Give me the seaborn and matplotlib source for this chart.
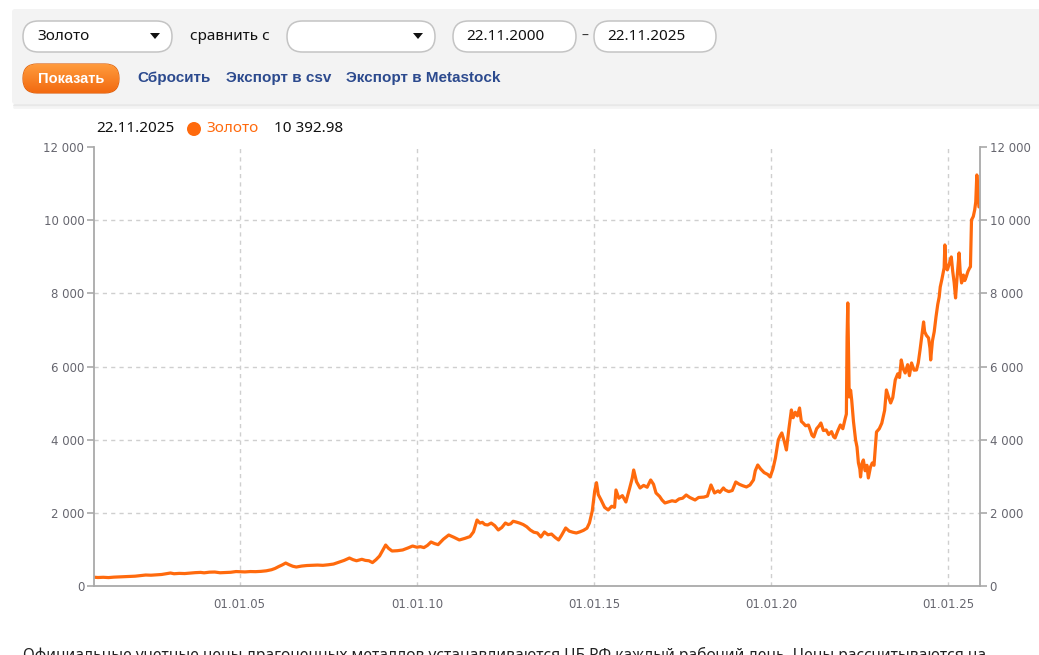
import pandas as pd
import numpy as np
import matplotlib
matplotlib.use("Agg")
import matplotlib.pyplot as plt
from matplotlib.patches import FancyBboxPatch, Circle, Polygon
import seaborn as sns

# --- данные (цена золота, руб/г), время в долях года ---
years = [
    2000.89, 2001.0, 2001.15, 2001.3, 2001.45, 2001.6, 2001.75, 2001.9, 2002.05, 2002.2,
    2002.35, 2002.5, 2002.65, 2002.8, 2002.95, 2003.05, 2003.15, 2003.3, 2003.45, 2003.6,
    2003.75, 2003.9, 2004.0, 2004.15, 2004.3, 2004.45, 2004.6, 2004.75, 2004.9, 2005.0,
    2005.15, 2005.3, 2005.45, 2005.6, 2005.75, 2005.9, 2006.0, 2006.1, 2006.2, 2006.3,
    2006.4, 2006.5, 2006.6, 2006.75, 2006.9, 2007.05, 2007.2, 2007.35, 2007.5, 2007.65,
    2007.8, 2007.95, 2008.1, 2008.2, 2008.3, 2008.45, 2008.55, 2008.65, 2008.75, 2008.85,
    2008.95, 2009.05, 2009.12, 2009.2, 2009.3, 2009.45, 2009.6, 2009.75, 2009.88, 2010.0,
    2010.1, 2010.2, 2010.3, 2010.4, 2010.5, 2010.6, 2010.75, 2010.9, 2011.05, 2011.2,
    2011.35, 2011.5, 2011.6, 2011.7, 2011.78, 2011.85, 2011.92, 2012.0, 2012.1, 2012.2,
    2012.3, 2012.4, 2012.5, 2012.58, 2012.65, 2012.72, 2012.8, 2012.9, 2013.0, 2013.1,
    2013.2, 2013.3, 2013.4, 2013.5, 2013.6, 2013.7, 2013.8, 2013.9, 2014.0, 2014.08,
    2014.2, 2014.3, 2014.4, 2014.5, 2014.6, 2014.7, 2014.8, 2014.87, 2014.95, 2015.02,
    2015.07, 2015.12, 2015.2, 2015.3, 2015.4, 2015.5, 2015.58, 2015.62, 2015.7, 2015.8,
    2015.9, 2016.0, 2016.08, 2016.12, 2016.2, 2016.3, 2016.4, 2016.5, 2016.6, 2016.68,
    2016.75, 2016.85, 2016.92, 2017.0, 2017.1, 2017.2, 2017.3, 2017.4, 2017.5, 2017.6,
    2017.7, 2017.85, 2017.95, 2018.1, 2018.2, 2018.3, 2018.35, 2018.4, 2018.5, 2018.55,
    2018.65, 2018.7, 2018.8, 2018.9, 2019.0, 2019.1, 2019.2, 2019.3, 2019.4, 2019.5,
    2019.55, 2019.62, 2019.7, 2019.8, 2019.9, 2019.97, 2020.05, 2020.12, 2020.2, 2020.25,
    2020.3, 2020.37, 2020.43, 2020.5, 2020.57, 2020.62, 2020.68, 2020.74, 2020.8, 2020.85,
    2020.9, 2020.97, 2021.05, 2021.1, 2021.15, 2021.2, 2021.28, 2021.35, 2021.4, 2021.47,
    2021.55, 2021.62, 2021.7, 2021.76, 2021.8, 2021.88, 2021.95, 2022.02, 2022.08, 2022.12,
    2022.14, 2022.16, 2022.18, 2022.2, 2022.24, 2022.27, 2022.32, 2022.38, 2022.42, 2022.46,
    2022.5, 2022.52, 2022.56, 2022.6, 2022.65, 2022.7, 2022.74, 2022.8, 2022.85, 2022.9,
    2022.97, 2023.05, 2023.12, 2023.2, 2023.25, 2023.3, 2023.37, 2023.43, 2023.5, 2023.57,
    2023.62, 2023.67, 2023.72, 2023.78, 2023.85, 2023.9, 2023.96, 2024.03, 2024.1, 2024.15,
    2024.2, 2024.26, 2024.3, 2024.33, 2024.38, 2024.44, 2024.48, 2024.5, 2024.55, 2024.6,
    2024.65, 2024.7, 2024.74, 2024.77, 2024.82, 2024.85, 2024.88, 2024.9, 2024.93, 2024.97,
    2025.02, 2025.08, 2025.12, 2025.16, 2025.2, 2025.24, 2025.3, 2025.33, 2025.37, 2025.42,
    2025.46, 2025.5, 2025.55, 2025.6, 2025.62, 2025.65, 2025.7, 2025.74, 2025.77, 2025.8,
    2025.83, 2025.86, 2025.89,
]
prices = [
    240, 232, 238, 230, 242, 248, 255, 262, 268, 285,
    300, 295, 305, 315, 340, 355, 335, 345, 340, 352,
    365, 372, 360, 378, 382, 362, 368, 375, 395, 391,
    385, 395, 392, 400, 415, 445, 480, 530, 575, 628,
    580, 540, 519, 545, 560, 565, 572, 565, 580, 600,
    650, 700, 765, 720, 690, 730, 700, 690, 640, 720,
    820, 1000, 1120, 1030, 957, 965, 985, 1040, 1093, 1060,
    1075, 1050, 1110, 1203, 1160, 1130, 1280, 1394, 1330, 1258,
    1300, 1350, 1480, 1804, 1720, 1740, 1680, 1668, 1720, 1650,
    1531, 1600, 1722, 1680, 1700, 1770, 1750, 1720, 1680, 1620,
    1531, 1470, 1450, 1340, 1476, 1400, 1420, 1330, 1258, 1380,
    1586, 1500, 1470, 1449, 1480, 1520, 1580, 1722, 2050, 2600,
    2824, 2500, 2351, 2150, 2078, 2180, 2150, 2625, 2400, 2470,
    2297, 2650, 2950, 3171, 2850, 2679, 2750, 2700, 2898, 2780,
    2543, 2450, 2350, 2269, 2300, 2330, 2310, 2380, 2400, 2488,
    2420, 2351, 2420, 2430, 2460, 2761, 2650, 2543, 2600, 2560,
    2680, 2625, 2580, 2610, 2843, 2780, 2740, 2707, 2760, 2900,
    3150, 3308, 3200, 3100, 3050, 2980, 3200, 3500, 3992, 4100,
    4183, 3950, 3718, 4300, 4812, 4600, 4750, 4650, 4866, 4500,
    4456, 4380, 4400, 4265, 4120, 4074, 4300, 4380, 4456, 4250,
    4265, 4140, 4220, 4080, 4047, 4250, 4402, 4300, 4550, 4700,
    6800, 7737, 6500, 5167, 5350, 5085, 4500, 3992, 3800, 3363,
    3200, 2980, 3350, 3445, 3150, 3300, 2953, 3250, 3363, 3300,
    4210, 4300, 4450, 4800, 5359, 5200, 5003, 5150, 5632, 5800,
    5700, 6179, 5950, 5823, 6050, 5750, 6097, 5900, 5905, 6100,
    6452, 6900, 7218, 6950, 6850, 6780, 6500, 6179, 6700, 6950,
    7354, 7700, 7900, 8175, 8400, 8558, 8700, 9323, 8700, 8640,
    8800, 8995, 8600, 8300, 7874, 8400, 9104, 8600, 8284, 8500,
    8350, 8448, 8600, 8700, 8722, 10007, 10100, 10280, 10500, 11236,
    10800, 10362, 10393,
]
y_ticks = [0, 2000, 4000, 6000, 8000, 10000, 12000]
x_ticks = ["2005-01-01", "2010-01-01", "2015-01-01", "2020-01-01", "2025-01-01"]
x_tick_labels = ["01.01.05", "01.01.10", "01.01.15", "01.01.20", "01.01.25"]

metal = "Золото"
date_from = "22.11.2000"
date_to = "22.11.2025"
last_value = "10 392.98"
footer = ("Официальные учетные цены драгоценных металлов устанавливаются ЦБ РФ "
          "каждый рабочий день. Цены рассчитываются на")

ORANGE = "#ff6a0d"
LINK = "#2c4a8e"
GRAY = "#a9a9a9"
TICK_TXT = "#66666f"

assert len(years) == len(prices)


def to_date(y):
    year = int(y)
    start = pd.Timestamp(year=year, month=1, day=1)
    return start + pd.Timedelta(days=(y - year) * 365.25)


df = pd.DataFrame({"date": [to_date(y) for y in years], "price": prices})

sns.set_theme(style="white")
plt.rcParams["font.family"] = ["Noto Sans", "DejaVu Sans"]
BOLD_FONT = ["Liberation Sans", "DejaVu Sans"]

W, H = 1039, 655
fig = plt.figure(figsize=(W / 100, H / 100), dpi=100)

# --- фон и элементы формы (в пикселях) ---
bg = fig.add_axes([0, 0, 1, 1], zorder=0)
bg.set_xlim(0, W)
bg.set_ylim(H, 0)
bg.axis("off")

panel = FancyBboxPatch((12, 9), W + 20, 95, boxstyle="round,pad=0,rounding_size=3",
                       fc="#f3f3f3", ec="none")
bg.add_patch(panel)
bg.plot([14, W], [105, 105], color="#e8e8e8", lw=2)
bg.plot([14, W], [107, 107], color="#f4f4f4", lw=2)


def pill(x0, x1, y0, y1):
    r = (y1 - y0) / 2
    bg.add_patch(FancyBboxPatch((x0, y0), x1 - x0, y1 - y0,
                                boxstyle=f"round,pad=0,rounding_size={r}",
                                fc="white", ec="#c4c4c4", lw=1.1))


def triangle(cx, cy):
    bg.add_patch(Polygon([[cx - 5, cy - 3], [cx + 5, cy - 3], [cx, cy + 3]],
                         closed=True, fc="#111111", ec="none"))


pill(23, 172, 21, 52)
bg.text(37, 37, metal, fontsize=11, va="center", ha="left", color="#111111")
triangle(155, 36)
bg.text(190, 37, "сравнить с", fontsize=11, va="center", ha="left", color="#111111")
pill(287, 435, 21, 52)
triangle(418, 36)
pill(453, 576, 21, 52)
bg.text(466, 37, date_from, fontsize=11, va="center", ha="left", color="#111111")
bg.text(585, 36, "–", fontsize=10, va="center", ha="center", color="#333333")
pill(594, 716, 21, 52)
bg.text(607, 37, date_to, fontsize=11, va="center", ha="left", color="#111111")

# оранжевая кнопка с градиентом
btn = FancyBboxPatch((23, 64), 96, 29, boxstyle="round,pad=0,rounding_size=14",
                     fc="none", ec="#d95a08", lw=0.8)
bg.add_patch(btn)
grad = np.linspace(0, 1, 64).reshape(-1, 1)
cmap = matplotlib.colors.LinearSegmentedColormap.from_list("btn", ["#ff9b3d", "#f26a10"])
im = bg.imshow(grad, cmap=cmap, extent=(23, 119, 93, 64), aspect="auto", zorder=1)
im.set_clip_path(btn)
bg.text(71, 79, "Показать", fontsize=10.5, weight="bold", color="white",
        ha="center", va="center", zorder=2, family=BOLD_FONT)

for x, s in [(137, "Сбросить"), (226, "Экспорт в csv"), (346, "Экспорт в Metastock")]:
    bg.text(x, 78, s, fontsize=11, weight="bold", color=LINK, ha="left", va="center",
            family=BOLD_FONT)

# легенда над графиком
bg.text(96, 129, date_to, fontsize=11, color="#111111", ha="left", va="center")
bg.add_patch(Circle((194, 129), 7, fc=ORANGE, ec="none"))
bg.text(206, 129, metal, fontsize=11, color=ORANGE, ha="left", va="center")
bg.text(274, 129, last_value, fontsize=11, color="#111111", ha="left", va="center")

bg.text(23, 660, footer, fontsize=11.2, color="#222222", ha="left", va="baseline")

# --- сам график ---
ax = fig.add_axes([94 / W, 1 - 586 / H, (980 - 94) / W, (586 - 147) / H], zorder=1)
ax.set_facecolor("none")
sns.lineplot(data=df, x="date", y="price", ax=ax, color=ORANGE, linewidth=2.3,
             estimator=None, sort=False)

ax.set_xlim(pd.Timestamp("2000-11-22"), pd.Timestamp("2025-11-22"))
ax.set_ylim(0, 12000)
ax.set_yticks(y_ticks)
ax.set_yticklabels([f"{v:,}".replace(",", " ") for v in y_ticks])
ax.set_xticks([pd.Timestamp(d) for d in x_ticks])
ax.set_xticklabels(x_tick_labels)
ax.set_xlabel("")
ax.set_ylabel("")

for v in y_ticks[1:-1]:
    ax.axhline(v, color="#cfcfcf", lw=1, ls=(0, (3, 3)), zorder=0)
for d in x_ticks:
    ax.axvline(pd.Timestamp(d), color="#cfcfcf", lw=1, ls=(0, (3, 3)), zorder=0)

for side in ["left", "right", "bottom"]:
    ax.spines[side].set_color(GRAY)
    ax.spines[side].set_linewidth(1.3)
ax.spines["top"].set_visible(False)

ax.tick_params(axis="y", which="both", left=True, right=True, labelleft=True,
               labelright=True, length=5, width=1.2, color=GRAY, pad=2,
               labelsize=8.5, labelcolor=TICK_TXT)
ax.tick_params(axis="x", bottom=True, length=0, pad=9, labelsize=8.5, labelcolor=TICK_TXT)
for lbl in ax.get_xticklabels() + ax.get_yticklabels():
    lbl.set_family(["DejaVu Sans"])

fig.savefig("out.png", dpi=100)
